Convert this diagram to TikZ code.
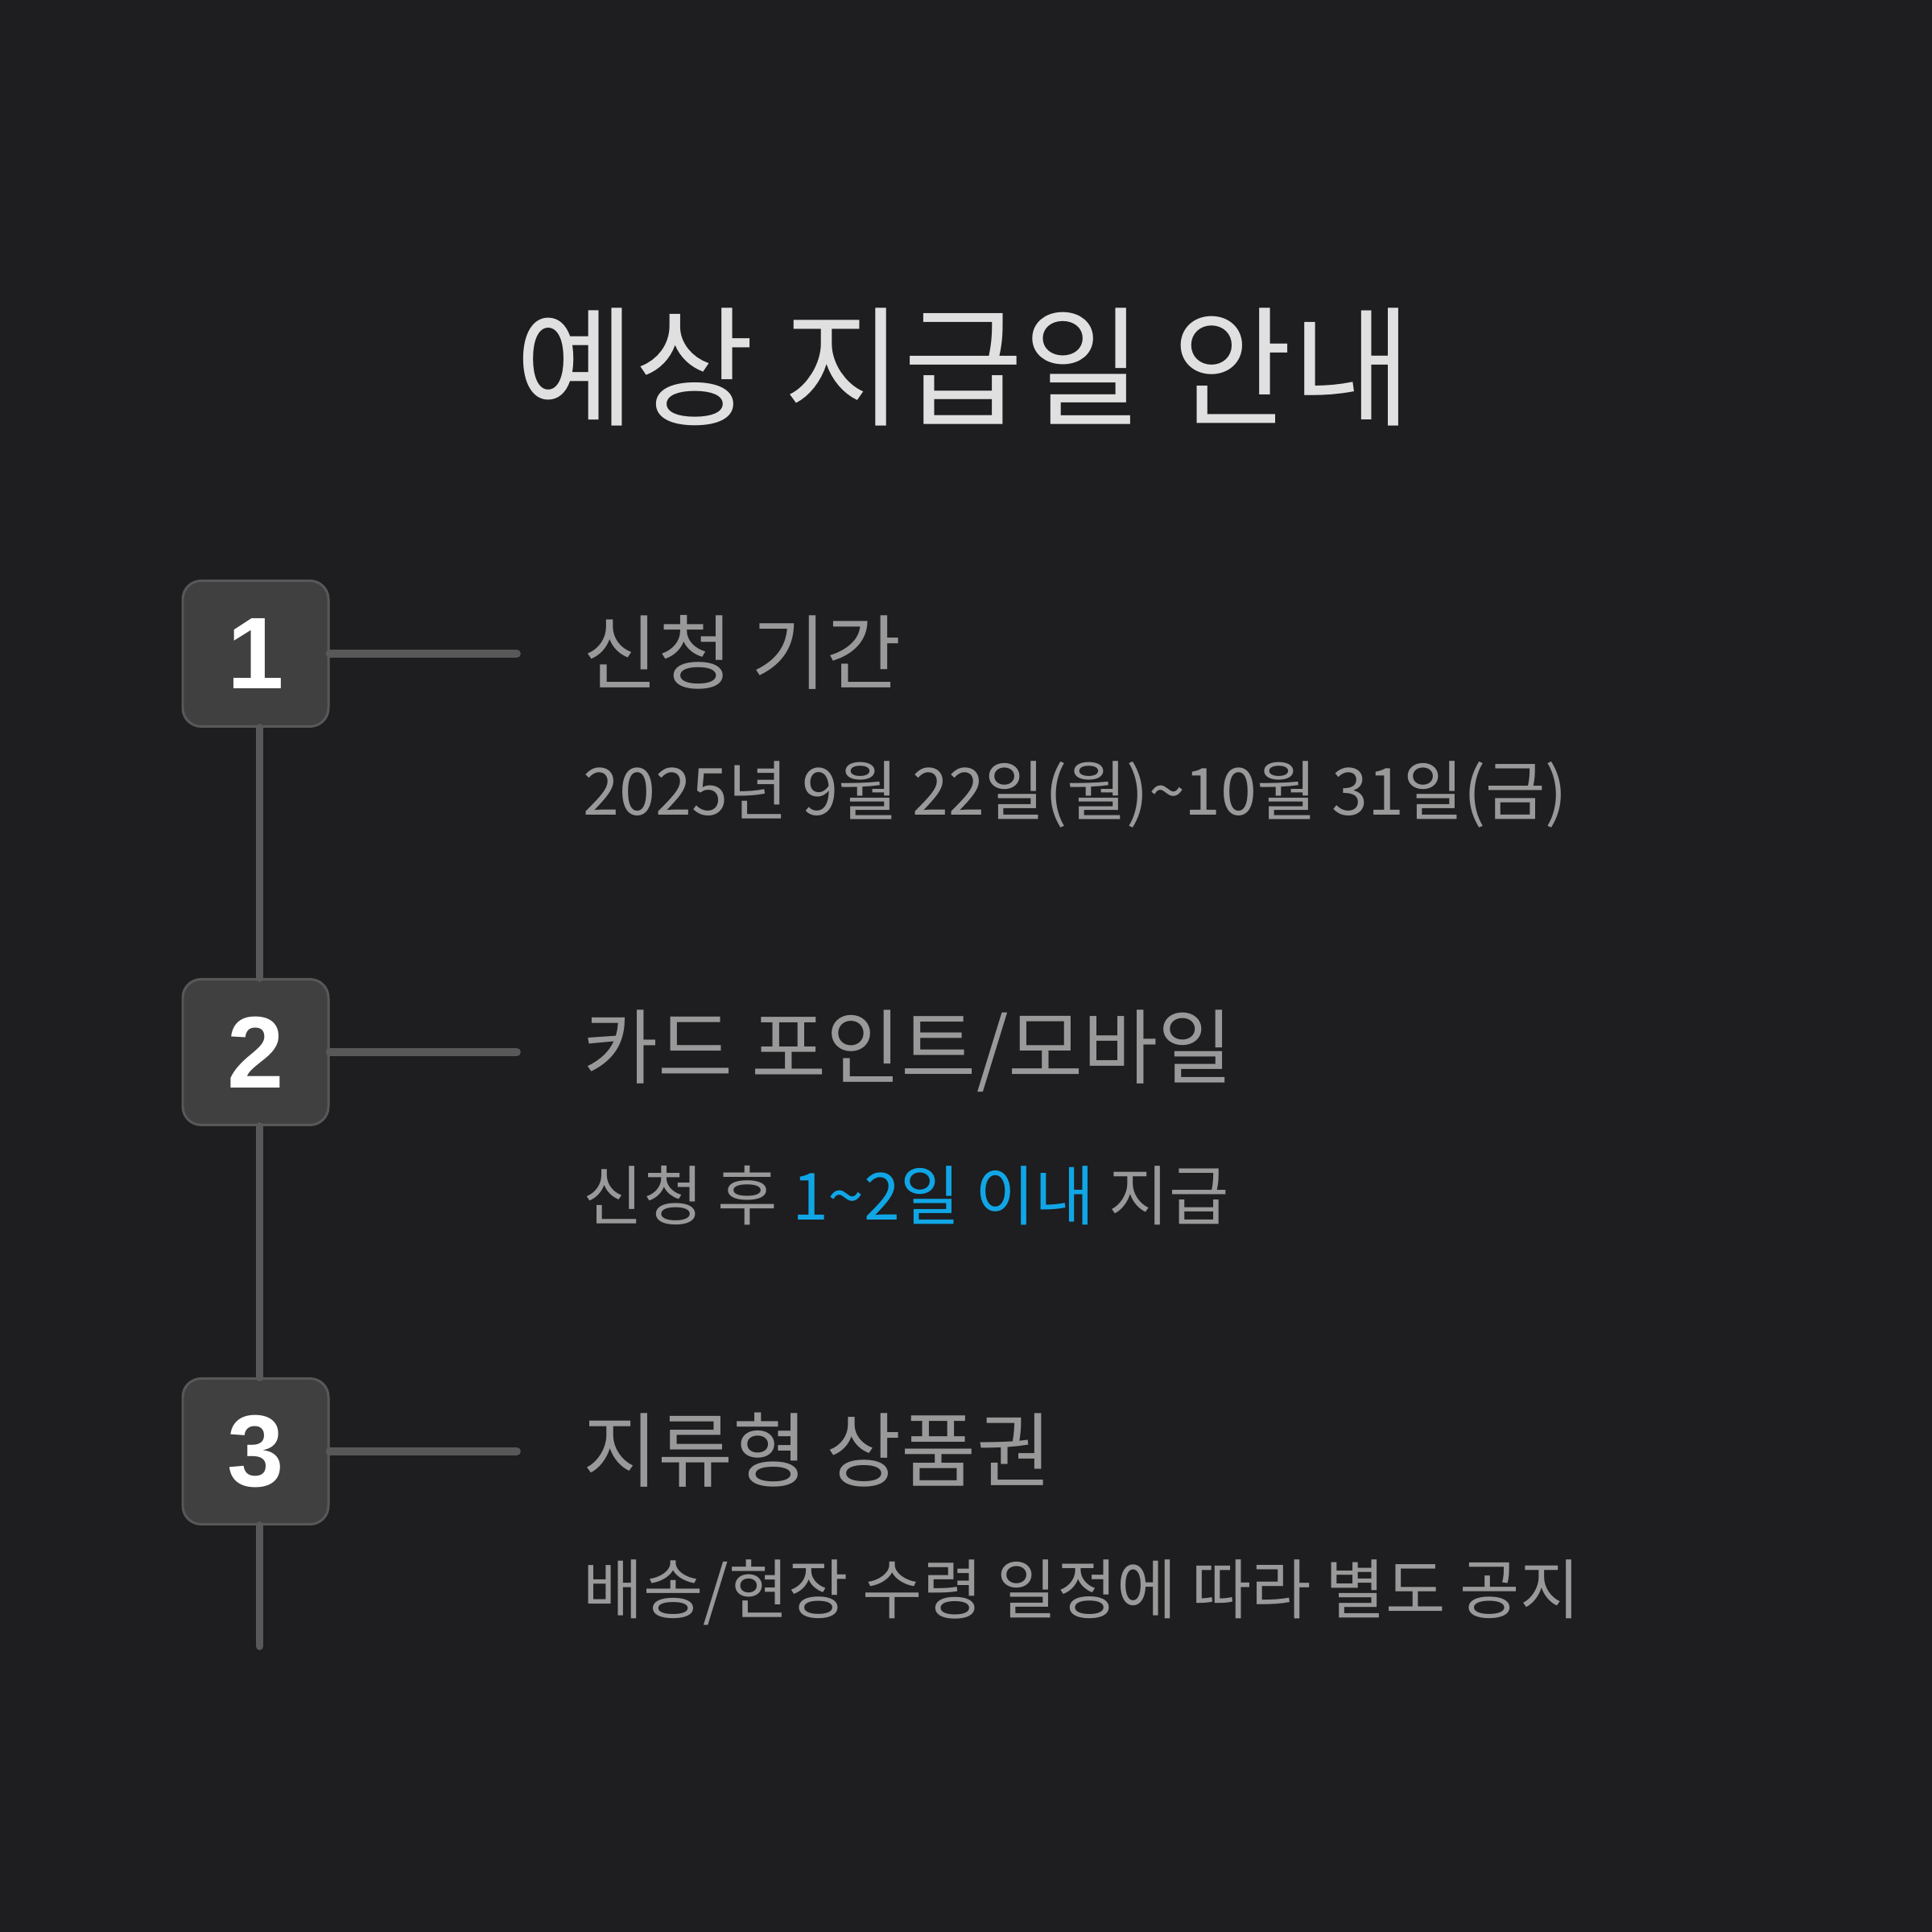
\documentclass[tikz,border=0pt]{standalone}
\usepackage{fontspec}
\setmainfont{Noto Sans CJK KR}
\newfontfamily\numfont{Liberation Sans}
\definecolor{bgdark}{RGB}{30,29,31}
\definecolor{boxgray}{RGB}{64,64,64}
\definecolor{linegray}{RGB}{88,88,88}
\definecolor{textgray}{RGB}{153,153,153}
\definecolor{titlewhite}{RGB}{224,224,224}
\definecolor{hiblue}{RGB}{16,166,230}
\usetikzlibrary{positioning,calc}

\begin{document}
\begin{tikzpicture}[
    stepnum/.style={draw=linegray,fill=boxgray,line width=0.85pt,rounded corners=6.5pt,
                    minimum width=1.81cm,minimum height=1.81cm,inner sep=0pt,
                    text=white,font=\numfont\bfseries\fontsize{36}{40}\selectfont},
    heading/.style={anchor=west,inner sep=0pt,text=textgray,
                    font=\fontsize{28.8}{34}\selectfont},
    detail/.style={anchor=west,inner sep=0pt,text=textgray,
                   font=\fontsize{23}{28}\selectfont},
    conn/.style={linegray,line width=2.8pt,line cap=round}]

    % background
    \fill[bgdark] (0,0) rectangle (24,24);
    \useasboundingbox (0,0) rectangle (24,24);

    % title
    \node[inner sep=0pt,text=titlewhite,font=\fontsize{46}{54}\selectfont]
      (title) at (11.97,19.44) {예상 지급일 안내};

    % step boxes
    \node[stepnum] (b1) at (3.175,15.88) {1};
    \node[stepnum] (b2) at (3.175,10.93) {2};
    \node[stepnum] (b3) at (3.175,5.97) {3};
    \coordinate (tail) at ($(b3.south)+(0.05,-1.5)$);

    % timeline
    \draw[conn] ([xshift=0.05cm]b1.south) -- ([xshift=0.05cm]b2.north);
    \draw[conn] ([xshift=0.05cm]b2.south) -- ([xshift=0.05cm]b3.north);
    \draw[conn] ([xshift=0.05cm]b3.south) -- (tail);

    % step 1
    \coordinate (e1) at (6.42,15.88);
    \draw[conn] (b1.east) -- (e1);
    \node[heading] (h1) at (7.24,15.9) {신청 기간};
    \node[detail] (d1) at (7.24,14.13) {2025년 9월 22일(월)\textasciitilde10월 31일(금)};

    % step 2
    \coordinate (e2) at (6.42,10.93);
    \draw[conn] (b2.east) -- (e2);
    \node[heading] (h2) at (7.24,10.94) {카드 포인트/모바일};
    \node[detail] (d2) at (7.24,9.15) {신청 후 \textcolor{hiblue}{1\textasciitilde2일 이내} 지급};

    % step 3
    \coordinate (e3) at (6.42,5.97);
    \draw[conn] (b3.east) -- (e3);
    \node[heading] (h3) at (7.24,5.99) {지류형 상품권};
    \node[detail] (d3) at (7.24,4.22) {배송/현장 수령 일정에 따라 별도 공지};
\end{tikzpicture}
\end{document}
